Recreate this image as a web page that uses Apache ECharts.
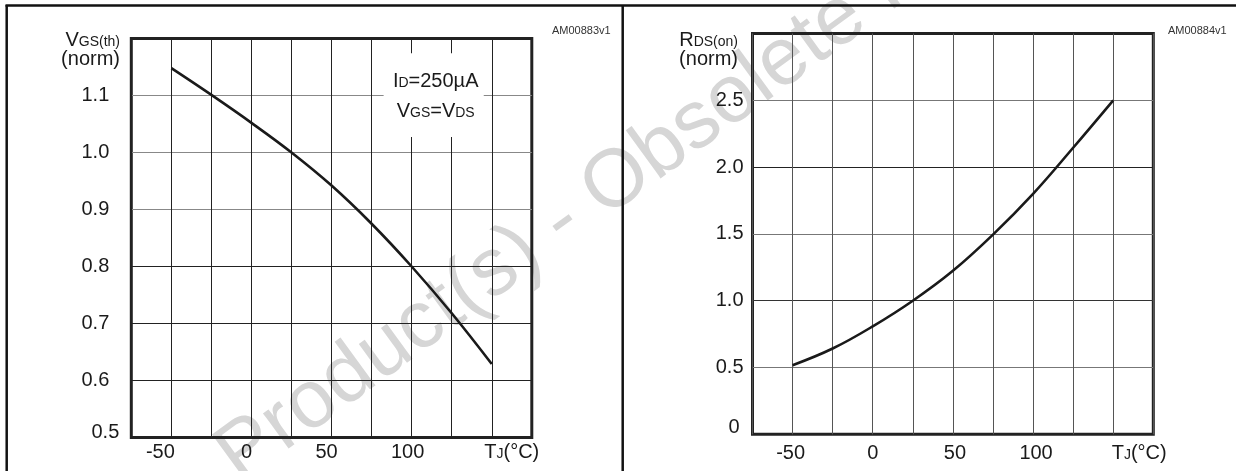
<!DOCTYPE html>
<html>
<head>
<meta charset="utf-8">
<script src="https://cdn.jsdelivr.net/npm/echarts@6/dist/echarts.min.js"></script>
<style>
html,body{margin:0;padding:0;background:#fff;}
#c{width:1236px;height:471px;}
</style>
</head>
<body>
<div id="c"></div>
<script>
// ---- data ----
const tempC = [-50, -25, 0, 25, 50, 75, 100, 125, 150];
const vgsNorm = [1.148, 1.101, 1.052, 1.0, 0.942, 0.875, 0.80, 0.718, 0.629];
const rdsNorm = [0.517, 0.642, 0.808, 1.0, 1.224, 1.495, 1.80, 2.145, 2.50];
const xTickValues = [-50, 0, 50, 100];
const xAxisTitle = ['T', 'J', '(°C)'];
const leftYTicks = ['0.5', '0.6', '0.7', '0.8', '0.9', '1.0', '1.1'];
const rightYTicks = ['0', '0.5', '1.0', '1.5', '2.0', '2.5'];
const leftYName = ['V', 'GS(th)', '(norm)'];
const rightYName = ['R', 'DS(on)', '(norm)'];
const noteLine1 = ['I', 'D', '=250µA'];
const noteLine2 = ['V', 'GS', '=V', 'DS'];
const figIds = ['AM00883v1', 'AM00884v1'];
const watermark = 'Obsolete Product(s) - Obsolete Product(s)';

// ---- styling helpers ----
const FONT = 'Liberation Sans, Arial, Helvetica, sans-serif';
const INK = '#1a1a1a';
function pairs(xs, ys) { return xs.map((x, i) => [x, ys[i]]); }

// horizontal label shifts (px) per tick value
const leftShift = { '-50': -11, '0': -5, '50': -5, '100': -4, '150': 20 };
const rightShift = { '-50': -2, '0': 0, '50': 2, '100': 3, '150': 26 };

function xRich(shifts) {
  const r = {};
  Object.keys(shifts).forEach((k, i) => {
    const s = shifts[k];
    const pad = s < 0 ? [0, -2 * s, 0, 0] : [0, 0, 0, 2 * s];
    r['t' + i] = { fontSize: 20, fontFamily: FONT, color: INK, padding: pad, verticalAlign: 'bottom' };
  });
  r.sub = { fontSize: 14, fontFamily: FONT, color: INK, verticalAlign: 'bottom', padding: [0, 0, 1, 0] };
  r.big = { fontSize: 20, fontFamily: FONT, color: INK, verticalAlign: 'bottom' };
  return r;
}
function xFormatter(shifts) {
  const keys = Object.keys(shifts);
  return function (v) {
    const idx = keys.indexOf(String(v));
    if (idx < 0) return '';
    if (v === 150) {
      return '{t' + idx + '|' + xAxisTitle[0] + '}{sub|' + xAxisTitle[1] + '}{big|' + xAxisTitle[2] + '}';
    }
    if (xTickValues.indexOf(v) < 0) return '';
    return '{t' + idx + '|' + String(v) + '}';
  };
}

const nameRich = {
  b: { fontSize: 20, fontFamily: FONT, fill: INK, lineHeight: 19, verticalAlign: 'bottom' },
  s: { fontSize: 14, fontFamily: FONT, fill: INK, lineHeight: 19, verticalAlign: 'bottom', padding: [0, 0, 1, 0] }
};

const chart = echarts.init(document.getElementById('c'), null, { renderer: 'canvas' });

const option = {
  backgroundColor: '#fff',
  animation: false,
  textStyle: { fontFamily: FONT },
  grid: [
    { left: 131.3, top: 38.5, width: 400.5, height: 399, show: true, borderColor: '#222', borderWidth: 3, backgroundColor: 'transparent' },
    { left: 752.5, top: 33.5, width: 400.8, height: 400.8, show: true, borderColor: '#222', borderWidth: 3, backgroundColor: 'transparent' }
  ],
  xAxis: [
    {
      gridIndex: 0, type: 'value', min: -75, max: 175, interval: 25,
      axisLine: { show: false }, axisTick: { show: false },
      splitLine: { show: true, lineStyle: { color: '#222', width: 1 } },
      axisLabel: { show: true, margin: 5, formatter: xFormatter(leftShift), rich: xRich(leftShift) }
    },
    {
      gridIndex: 1, type: 'value', min: -75, max: 175, interval: 25,
      axisLine: { show: false }, axisTick: { show: false },
      splitLine: { show: true, lineStyle: { color: '#555', width: 1 } },
      axisLabel: { show: true, margin: 9, formatter: xFormatter(rightShift), rich: xRich(rightShift) }
    }
  ],
  yAxis: [
    {
      gridIndex: 0, type: 'value', min: 0.5, max: 1.2, interval: 0.1,
      axisLine: { show: false }, axisTick: { show: false },
      splitLine: { show: true, lineStyle: { color: ['#222', '#222', '#222', '#222', '#888', '#888', '#888', '#222'], width: 1 } },
      axisLabel: {
        margin: 12,
        formatter: function (v) {
          const t = v.toFixed(1);
          if (leftYTicks.indexOf(t) < 0) return '';
          return t === '0.5' ? '{e|' + t + '}' : '{n|' + t + '}';
        },
        rich: {
          n: { fontSize: 20, fontFamily: FONT, color: INK, padding: [0, 10, 0, 0] },
          e: { fontSize: 20, fontFamily: FONT, color: INK, padding: [0, 0, 10, 0] }
        }
      }
    },
    {
      gridIndex: 1, type: 'value', min: 0, max: 3, interval: 0.5,
      axisLine: { show: false }, axisTick: { show: false },
      splitLine: { show: true, lineStyle: { color: ['#222', '#777', '#333', '#777', '#222', '#777', '#222'], width: 1 } },
      axisLabel: {
        margin: 9,
        formatter: function (v) {
          const t = v === 0 ? '0' : v.toFixed(1);
          if (rightYTicks.indexOf(t) < 0) return '';
          return t === '0' ? '{z|' + t + '}' : '{n|' + t + '}';
        },
        rich: {
          n: { fontSize: 20, fontFamily: FONT, color: INK },
          z: { fontSize: 20, fontFamily: FONT, color: INK, padding: [0, 4, 14, 0] }
        }
      }
    }
  ],
  series: [
    {
      type: 'line', xAxisIndex: 0, yAxisIndex: 0,
      data: pairs(tempC, vgsNorm), smooth: 0.4, showSymbol: false,
      lineStyle: { color: INK, width: 2.6 },
      markArea: {
        silent: true,
        itemStyle: { color: '#fff', opacity: 1 },
        label: {
          show: true, position: 'inside', offset: [2, -4],
          formatter: '{b|' + noteLine1[0] + '}{s|' + noteLine1[1] + '}{b|' + noteLine1[2] + '}\n{b|' + noteLine2[0] + '}{s|' + noteLine2[1] + '}{b|' + noteLine2[2] + '}{s|' + noteLine2[3] + '}',
          rich: {
            b: { fontSize: 20, fontFamily: FONT, color: INK, lineHeight: 30, verticalAlign: 'bottom' },
            s: { fontSize: 14, fontFamily: FONT, color: INK, lineHeight: 30, verticalAlign: 'bottom', padding: [0, 0, 1, 0] }
          }
        },
        data: [[{ coord: [82.5, 1.027] }, { coord: [145, 1.174] }]]
      }
    },
    {
      type: 'line', xAxisIndex: 1, yAxisIndex: 1,
      data: pairs(tempC, rdsNorm), smooth: 0.4, showSymbol: false,
      lineStyle: { color: INK, width: 2.6 }
    }
  ],
  graphic: [
    {
      type: 'text', x: 562, y: 222, rotation: 36 * Math.PI / 180, z: -10, silent: true,
      style: { text: watermark, fontSize: 82, fontFamily: FONT, fill: '#d6d6d6', align: 'center', verticalAlign: 'middle' }
    },
    { type: 'line', shape: { x1: 5.5, y1: 5.5, x2: 1236, y2: 5.5 }, style: { stroke: '#111', lineWidth: 2.5 } },
    { type: 'line', shape: { x1: 6.7, y1: 5, x2: 6.7, y2: 471 }, style: { stroke: '#111', lineWidth: 2.5 } },
    { type: 'line', shape: { x1: 622.7, y1: 5, x2: 622.7, y2: 471 }, style: { stroke: '#111', lineWidth: 2.5 } },
    { type: 'text', x: 552, y: 31, style: { text: figIds[0], fontSize: 11, fontFamily: FONT, fill: '#333', verticalAlign: 'middle' } },
    { type: 'text', x: 1168, y: 31, style: { text: figIds[1], fontSize: 11, fontFamily: FONT, fill: '#333', verticalAlign: 'middle' } },
    {
      type: 'text', x: 120, y: 31,
      style: { text: '{b|' + leftYName[0] + '}{s|' + leftYName[1] + '}\n{b|' + leftYName[2] + '}', rich: nameRich, align: 'right', verticalAlign: 'top', fill: INK, fontFamily: FONT, fontSize: 20 }
    },
    {
      type: 'text', x: 738, y: 31,
      style: { text: '{b|' + rightYName[0] + '}{s|' + rightYName[1] + '}\n{b|' + rightYName[2] + '}', rich: nameRich, align: 'right', verticalAlign: 'top', fill: INK, fontFamily: FONT, fontSize: 20 }
    }
  ]
};
chart.setOption(option);
</script>
</body>
</html>
